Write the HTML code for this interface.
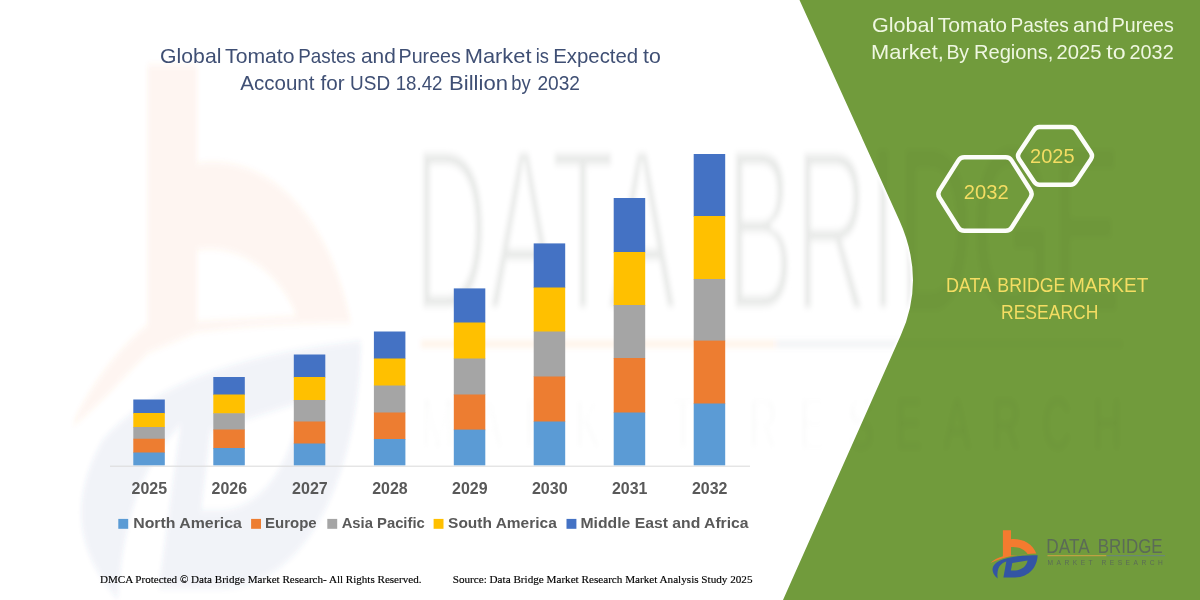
<!DOCTYPE html>
<html><head><meta charset="utf-8"><title>Global Tomato Pastes and Purees Market</title>
<style>
html,body{margin:0;padding:0;background:#fff;}
body{width:1200px;height:600px;overflow:hidden;font-family:"Liberation Sans",sans-serif;}
svg{display:block;}
text{font-family:"Liberation Sans",sans-serif;}
.serif{font-family:"Liberation Serif",serif;}
</style></head><body>
<svg width="1200" height="600" viewBox="0 0 1200 600">
<defs>
<clipPath id="gclip"><path d="M799.5,0 L899.2,220 Q925.9,279 900.9,335 L783,600 L1200,600 L1200,0 Z"/></clipPath>
<g id="lg-or"><path fill-rule="evenodd" d="M1002.9,530.3 L1011,530.3 L1011,539.2 C1022,538.3 1032.5,543.3 1036.3,553.6 C1022,553.6 1004,556.5 990.4,563 C993,560 998,557.6 1002.9,556.2 Z M1011,547.0 C1018,546.3 1025,549.2 1027.6,554 L1011,555.4 Z"/></g>
<g id="lg-bl"><path fill-rule="evenodd" d="M1037.6,555.3 C1037.4,566 1030,577.2 1015,577.6 L1003.4,577.6 L1006.3,561.6 C1001,563.5 996.5,567 997.6,578.6 C990.5,572 990.8,565.5 999,561 C1010,556.3 1025,555.3 1037.6,555.3 Z M1012.3,563 L1027.6,560.6 C1026.6,566 1022,570.2 1015,570.6 L1010.9,570.6 Z"/></g>
<g id="lg-tx">
<g font-size="21.0">
<text x="1046.25" y="552.5" textLength="43.36" lengthAdjust="spacingAndGlyphs">DATA</text>
<text x="1097.68" y="552.5" textLength="64.93" lengthAdjust="spacingAndGlyphs">BRIDGE</text>
</g>
<text x="1047.5" y="565.0" font-size="6.6" textLength="115.3" lengthAdjust="spacing">MARKET RESEARCH</text>
</g>

<filter id="wmblur" x="-5%" y="-5%" width="110%" height="110%"><feGaussianBlur stdDeviation="2 3"/></filter>
<filter id="blur2"><feGaussianBlur stdDeviation="1.2"/></filter>
<filter id="blur6"><feGaussianBlur stdDeviation="5"/></filter>
</defs>
<rect width="1200" height="600" fill="#ffffff"/>

<!-- WATERMARK -->
<g id="wm">
<g filter="url(#wmblur)">
<g transform="matrix(6.077,0,0,11.07,-5944.7,-5806)">
<path fill="#f47b2f" opacity="0.075" fill-rule="evenodd" transform="translate(-0.35,0.05)" d="M1002.9,530.3 L1011,530.3 L1011,539.2 C1022,538.3 1032.5,543.3 1036.3,553.6 C1027,553.6 1018,553.9 1011,554.4 L1002.9,556.3 C999,558.4 995,561 990.4,563 C993,559.6 998,555.9 1002.9,553.8 Z M1011,547.0 C1018,546.3 1025,549.2 1027.4,553.0 L1011,553.5 Z"/>
<path fill="#3355a4" opacity="0.075" fill-rule="evenodd" d="M1037.6,555.3 C1037.4,566 1030,577.2 1015,577.6 L1004.4,577.6 L1008,562.8 C1003,565.5 998.5,570 997.6,578.6 C990.5,574 989.8,569.5 995.2,564.2 C1003,559.5 1016,556.6 1037.6,555.3 Z M1012.8,563.4 L1027.6,560.8 C1026.6,566 1022,570.2 1015,570.6 L1011.3,570.6 Z"/>
<use href="#lg-tx" fill="#4b5a48" stroke="#ffffff" stroke-width="0.45" opacity="0.12"/>
<line x1="1047.5" y1="555.55" x2="1106" y2="555.55" stroke="#f47b2f" stroke-width="0.45" opacity="0.12"/>
<line x1="1106" y1="555.55" x2="1163" y2="555.55" stroke="#6a7d92" stroke-width="0.45" opacity="0.12"/>
</g>
</g>

</g>

<!-- GREEN PANEL -->
<g id="green">
<path d="M799.5,0 L899.2,220 Q925.9,279 900.9,335 L783,600 L1200,600 L1200,0 Z" fill="#ffffff" stroke="#ffffff" stroke-width="4" filter="url(#blur2)"/>
<path d="M799.5,0 L899.2,220 Q925.9,279 900.9,335 L783,600 L1200,600 L1200,0 Z" fill="#719b3c"/>
<g clip-path="url(#gclip)" opacity="0.022" filter="url(#wmblur)">
<g transform="matrix(6.077,0,0,11.07,-5944.7,-5806)">
<use href="#lg-tx" fill="#000"/>
<line x1="1106" y1="555.55" x2="1163" y2="555.55" stroke="#000" stroke-width="0.45"/>
</g>
</g>

</g>

<!-- CHART -->
<line x1="110" y1="466.2" x2="750" y2="466.2" stroke="#d9d9d9" stroke-width="1"/>
<g id="bars">
<rect x="133.3" y="399.5" width="31.5" height="14.10" fill="#4472c4"/>
<rect x="133.3" y="413" width="31.5" height="14.60" fill="#ffc000"/>
<rect x="133.3" y="427" width="31.5" height="12.35" fill="#a5a5a5"/>
<rect x="133.3" y="438.75" width="31.5" height="14.35" fill="#ed7d31"/>
<rect x="133.3" y="452.5" width="31.5" height="12.80" fill="#5b9bd5"/>
<rect x="213.3" y="377" width="31.5" height="18.10" fill="#4472c4"/>
<rect x="213.3" y="394.5" width="31.5" height="19.35" fill="#ffc000"/>
<rect x="213.3" y="413.25" width="31.5" height="16.85" fill="#a5a5a5"/>
<rect x="213.3" y="429.5" width="31.5" height="19.10" fill="#ed7d31"/>
<rect x="213.3" y="448" width="31.5" height="17.30" fill="#5b9bd5"/>
<rect x="293.8" y="354.5" width="31.5" height="23.10" fill="#4472c4"/>
<rect x="293.8" y="377" width="31.5" height="23.60" fill="#ffc000"/>
<rect x="293.8" y="400" width="31.5" height="22.10" fill="#a5a5a5"/>
<rect x="293.8" y="421.5" width="31.5" height="22.60" fill="#ed7d31"/>
<rect x="293.8" y="443.5" width="31.5" height="21.80" fill="#5b9bd5"/>
<rect x="373.9" y="331.5" width="31.5" height="27.60" fill="#4472c4"/>
<rect x="373.9" y="358.5" width="31.5" height="27.60" fill="#ffc000"/>
<rect x="373.9" y="385.5" width="31.5" height="27.60" fill="#a5a5a5"/>
<rect x="373.9" y="412.5" width="31.5" height="27.10" fill="#ed7d31"/>
<rect x="373.9" y="439" width="31.5" height="26.30" fill="#5b9bd5"/>
<rect x="453.8" y="288.4" width="31.5" height="34.70" fill="#4472c4"/>
<rect x="453.8" y="322.5" width="31.5" height="36.60" fill="#ffc000"/>
<rect x="453.8" y="358.5" width="31.5" height="36.60" fill="#a5a5a5"/>
<rect x="453.8" y="394.5" width="31.5" height="35.70" fill="#ed7d31"/>
<rect x="453.8" y="429.6" width="31.5" height="35.70" fill="#5b9bd5"/>
<rect x="533.7" y="243.4" width="31.5" height="44.70" fill="#4472c4"/>
<rect x="533.7" y="287.5" width="31.5" height="44.60" fill="#ffc000"/>
<rect x="533.7" y="331.5" width="31.5" height="45.60" fill="#a5a5a5"/>
<rect x="533.7" y="376.5" width="31.5" height="45.60" fill="#ed7d31"/>
<rect x="533.7" y="421.5" width="31.5" height="43.80" fill="#5b9bd5"/>
<rect x="613.7" y="198" width="31.5" height="54.60" fill="#4472c4"/>
<rect x="613.7" y="252" width="31.5" height="53.60" fill="#ffc000"/>
<rect x="613.7" y="305" width="31.5" height="53.60" fill="#a5a5a5"/>
<rect x="613.7" y="358" width="31.5" height="55.10" fill="#ed7d31"/>
<rect x="613.7" y="412.5" width="31.5" height="52.80" fill="#5b9bd5"/>
<rect x="693.7" y="154" width="31.5" height="62.60" fill="#4472c4"/>
<rect x="693.7" y="216" width="31.5" height="63.60" fill="#ffc000"/>
<rect x="693.7" y="279" width="31.5" height="62.20" fill="#a5a5a5"/>
<rect x="693.7" y="340.6" width="31.5" height="63.50" fill="#ed7d31"/>
<rect x="693.7" y="403.5" width="31.5" height="61.80" fill="#5b9bd5"/>
</g>
<g id="years" font-size="16.2" font-weight="bold" fill="#595959">
<text x="131.55" y="493.8" textLength="35.50" lengthAdjust="spacingAndGlyphs">2025</text>
<text x="211.55" y="493.8" textLength="35.50" lengthAdjust="spacingAndGlyphs">2026</text>
<text x="292.05" y="493.8" textLength="35.75" lengthAdjust="spacingAndGlyphs">2027</text>
<text x="372.15" y="493.8" textLength="35.50" lengthAdjust="spacingAndGlyphs">2028</text>
<text x="452.05" y="493.8" textLength="35.50" lengthAdjust="spacingAndGlyphs">2029</text>
<text x="531.95" y="493.8" textLength="35.75" lengthAdjust="spacingAndGlyphs">2030</text>
<text x="611.95" y="493.8" textLength="35.50" lengthAdjust="spacingAndGlyphs">2031</text>
<text x="691.95" y="493.8" textLength="35.50" lengthAdjust="spacingAndGlyphs">2032</text>
</g>
<g id="legend" font-size="15.5" font-weight="bold" fill="#595959">
<rect x="118.3" y="518.9" width="9.9" height="9.9" fill="#5b9bd5"/>
<text x="133.21" y="527.6" textLength="108.69" lengthAdjust="spacingAndGlyphs">North America</text>
<rect x="251.1" y="518.9" width="9.9" height="9.9" fill="#ed7d31"/>
<text x="265.06" y="527.6" textLength="51.61" lengthAdjust="spacingAndGlyphs">Europe</text>
<rect x="327.3" y="518.9" width="9.9" height="9.9" fill="#a5a5a5"/>
<text x="341.67" y="527.6" textLength="83.10" lengthAdjust="spacingAndGlyphs">Asia Pacific</text>
<rect x="433.6" y="518.9" width="9.9" height="9.9" fill="#ffc000"/>
<text x="448.06" y="527.6" textLength="108.74" lengthAdjust="spacingAndGlyphs">South America</text>
<rect x="566.5" y="518.9" width="9.9" height="9.9" fill="#4472c4"/>
<text x="580.52" y="527.6" textLength="168.08" lengthAdjust="spacingAndGlyphs">Middle East and Africa</text>
</g>

<!-- TITLES -->
<g id="title" font-size="20.6" fill="#3f4f74">
<text x="160.11" y="62.6" textLength="61.29" lengthAdjust="spacingAndGlyphs">Global</text>
<text x="225.07" y="62.6" textLength="69.49" lengthAdjust="spacingAndGlyphs">Tomato</text>
<text x="298.23" y="62.6" textLength="57.56" lengthAdjust="spacingAndGlyphs">Pastes</text>
<text x="360.95" y="62.6" textLength="34.82" lengthAdjust="spacingAndGlyphs">and</text>
<text x="398.57" y="62.6" textLength="62.25" lengthAdjust="spacingAndGlyphs">Purees</text>
<text x="464.69" y="62.6" textLength="66.83" lengthAdjust="spacingAndGlyphs">Market</text>
<text x="535.66" y="62.6" textLength="13.22" lengthAdjust="spacingAndGlyphs">is</text>
<text x="553.21" y="62.6" textLength="84.94" lengthAdjust="spacingAndGlyphs">Expected</text>
<text x="643.10" y="62.6" textLength="17.76" lengthAdjust="spacingAndGlyphs">to</text>
<text x="240.30" y="89.6" textLength="74.13" lengthAdjust="spacingAndGlyphs">Account</text>
<text x="320.50" y="89.6" textLength="24.10" lengthAdjust="spacingAndGlyphs">for</text>
<text x="350.11" y="89.6" textLength="40.04" lengthAdjust="spacingAndGlyphs">USD</text>
<text x="395.63" y="89.6" textLength="46.83" lengthAdjust="spacingAndGlyphs">18.42</text>
<text x="449.08" y="89.6" textLength="58.86" lengthAdjust="spacingAndGlyphs">Billion</text>
<text x="511.35" y="89.6" textLength="19.45" lengthAdjust="spacingAndGlyphs">by</text>
<text x="537.40" y="89.6" textLength="42.57" lengthAdjust="spacingAndGlyphs">2032</text>
</g>
<g id="rtitle" font-size="19.8" fill="#eff7e1">
<text x="871.99" y="31.5" textLength="62.44" lengthAdjust="spacingAndGlyphs">Global</text>
<text x="937.77" y="31.5" textLength="69.29" lengthAdjust="spacingAndGlyphs">Tomato</text>
<text x="1010.51" y="31.5" textLength="58.29" lengthAdjust="spacingAndGlyphs">Pastes</text>
<text x="1073.13" y="31.5" textLength="35.77" lengthAdjust="spacingAndGlyphs">and</text>
<text x="1111.67" y="31.5" textLength="62.15" lengthAdjust="spacingAndGlyphs">Purees</text>
<text x="871.10" y="59.0" textLength="72.73" lengthAdjust="spacingAndGlyphs">Market,</text>
<text x="946.38" y="59.0" textLength="22.72" lengthAdjust="spacingAndGlyphs">By</text>
<text x="973.93" y="59.0" textLength="79.37" lengthAdjust="spacingAndGlyphs">Regions,</text>
<text x="1056.55" y="59.0" textLength="44.97" lengthAdjust="spacingAndGlyphs">2025</text>
<text x="1106.30" y="59.0" textLength="19.34" lengthAdjust="spacingAndGlyphs">to</text>
<text x="1129.47" y="59.0" textLength="44.24" lengthAdjust="spacingAndGlyphs">2032</text>
</g>

<!-- HEXAGONS -->
<g id="hex" fill="none" stroke="#fcfdf9" stroke-width="4.4" stroke-linejoin="round">
<path d="M939.5,197.8 Q937.1,194.1 939.5,190.3 L958.3,160.6 Q960.4,157.3 964.3,157.3 L1005.7,157.3 Q1009.6,157.3 1011.7,160.6 L1030.5,190.3 Q1032.9,194.1 1030.5,197.8 L1011.7,227.5 Q1009.6,230.8 1005.7,230.8 L964.3,230.8 Q960.4,230.8 958.3,227.5 Z"/>
<path d="M1019.1,159.2 Q1016.9,155.8 1019.1,152.5 L1034.3,129.7 Q1036.1,127.0 1039.3,127.0 L1070.7,127.0 Q1073.9,127.0 1075.7,129.7 L1090.9,152.5 Q1093.1,155.8 1090.9,159.2 L1075.7,182.0 Q1073.9,184.7 1070.7,184.7 L1039.3,184.7 Q1036.1,184.7 1034.3,182.0 Z"/>

</g>
<g id="hext" font-size="21" fill="#f4dd63">
<text x="963.75" y="199.4" textLength="44.86" lengthAdjust="spacingAndGlyphs">2032</text>
<text x="1030.06" y="163.4" textLength="44.55" lengthAdjust="spacingAndGlyphs">2025</text>
</g>
<g id="dbmr" font-size="20.4" fill="#f4dd63">
<text x="945.89" y="292" textLength="45.32" lengthAdjust="spacingAndGlyphs">DATA</text>
<text x="997.31" y="292" textLength="68.13" lengthAdjust="spacingAndGlyphs">BRIDGE</text>
<text x="1069.01" y="292" textLength="79.41" lengthAdjust="spacingAndGlyphs">MARKET</text>
<text x="1001.03" y="319" textLength="97.40" lengthAdjust="spacingAndGlyphs">RESEARCH</text>
</g>

<!-- LOGO -->
<g id="logo">
<use href="#lg-or" fill="#f47b2f"/>
<use href="#lg-bl" fill="#3355a4"/>
<use href="#lg-tx" fill="#5b6b57"/>
<line x1="1047.5" y1="555.7" x2="1106.5" y2="555.7" stroke="#d0a347" stroke-width="1"/>
<line x1="1106.5" y1="555.7" x2="1165" y2="555.7" stroke="#6b8384" stroke-width="1"/>

</g>

<!-- FOOTER -->
<g id="foot" class="serif" font-size="10.5" fill="#000000" stroke="#000000" stroke-width="0.15">
<text class="serif" x="99.9" y="582.6" textLength="321.6" lengthAdjust="spacingAndGlyphs">DMCA Protected © Data Bridge Market Research-  All Rights Reserved.</text>
<text class="serif" x="452.7" y="582.6" textLength="299.8" lengthAdjust="spacingAndGlyphs">Source: Data Bridge Market Research  Market Analysis Study 2025</text>
</g>
</svg>
</body></html>
